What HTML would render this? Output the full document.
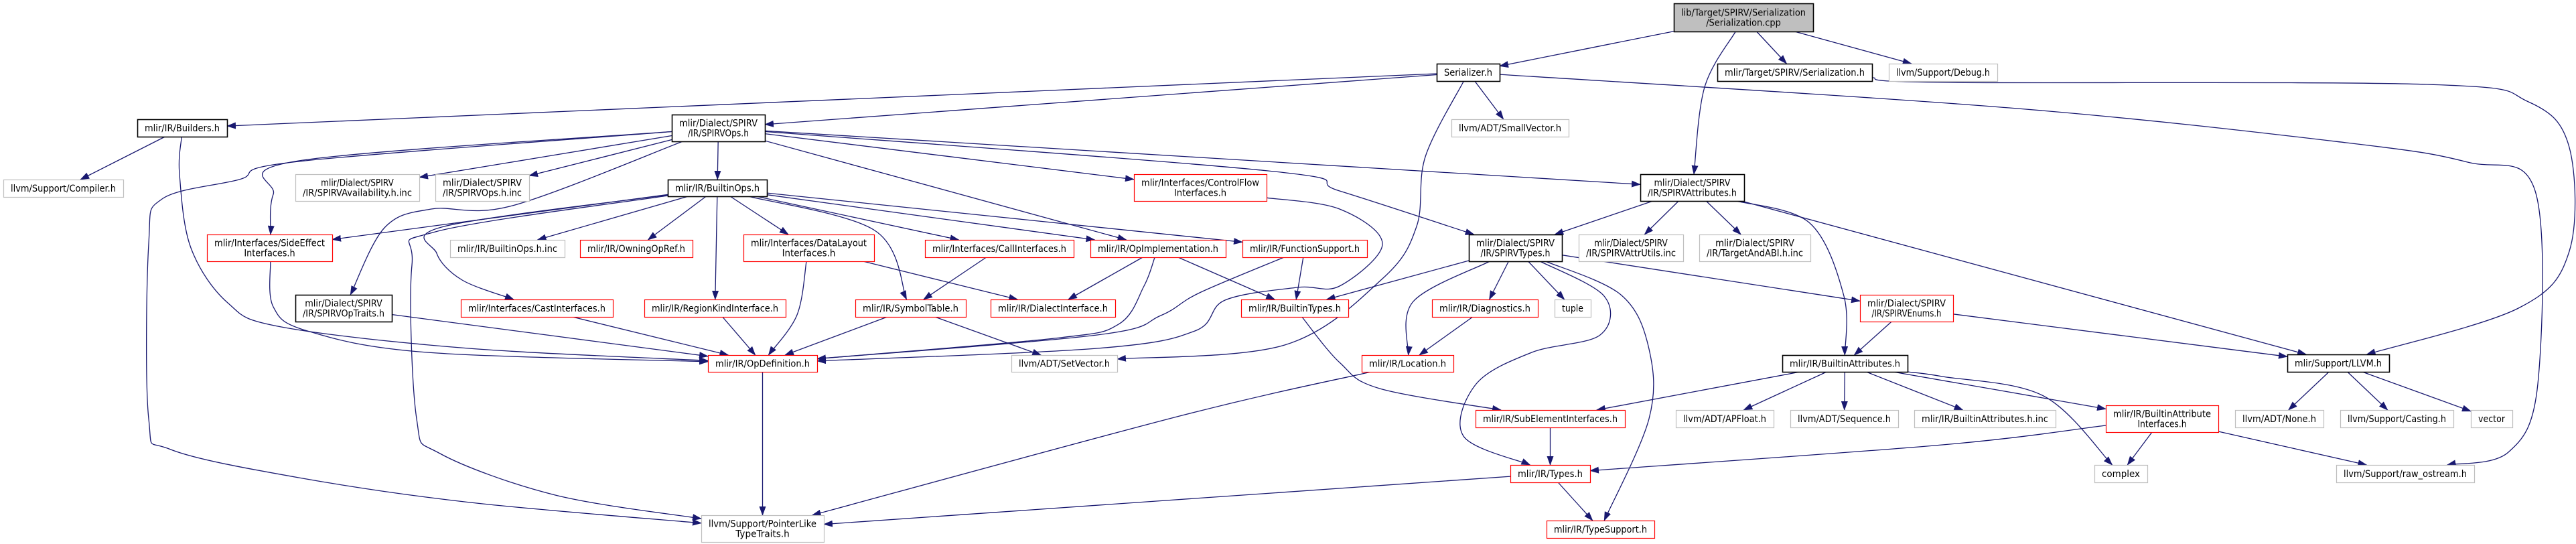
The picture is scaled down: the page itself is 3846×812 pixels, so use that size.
<!DOCTYPE html>
<html><head><meta charset="utf-8"><title>Serialization.cpp include graph</title>
<style>
html,body{margin:0;padding:0;background:#fff;}
svg{display:block;}
</style></head>
<body>
<svg id="g" xmlns="http://www.w3.org/2000/svg" width="3846" height="812" viewBox="0 0 3846 812">
<defs>
<marker id="ah" markerUnits="userSpaceOnUse" markerWidth="14" markerHeight="10" refX="13" refY="5" orient="auto">
<path d="M0,0 L14,5 L0,10 z" fill="#191970"/>
</marker>
</defs>
<g id="edges"></g>
<g id="nodes"></g>
</svg>
<script>
// node: id, x1, y1, x2, y2, style (k=black, g=gray, r=red, t=top), label lines
const nodeIds = ["cpp","ser","tser","debug","builders","compiler","avail","opsinc","side","boinc","owning","optraits","cast","region","spirvops","builtinops","cflow","dlayout","callif","opimpl","funcsupp","symtab","dialectif","btypes","opdef","setvec","ptrlike","sattr","stypes","attrutils","tabi","diag","tuple","senums","loc","battrs","subelem","apfloat","seq","bainc","types","typesup","llvm","baif","none","casting","vector","complex","rawos"];
const nodeBoxes = [
[2499,5,2707,47],[2145,95,2239,121],[2564,95,2795,121],[2820,95,2982,121],
[205,178,339,204],[5,268,184,294],[441,260,626,300],[650,260,790,300],
[309,350,496,390],[672,358,843,384],[866,358,1034,384],[441,440,585,480],
[688,447,915,473],[962,447,1173,473],[1003,171,1142,211],[997,268,1145,293],
[1693,260,1891,300],[1110,350,1305,390],[1381,358,1603,384],[1628,358,1830,384],
[1855,358,2041,384],[1277,447,1442,473],[1479,447,1665,473],[1853,447,2013,473],
[1057,530,1220,555],[1510,530,1668,555],[1047,769,1230,809],[2449,260,2604,300],
[2193,350,2332,390],[2357,350,2513,390],[2537,350,2703,390],[2138,447,2296,473],
[2321,447,2375,473],[2777,440,2916,480],[2033,530,2170,555],[2661,530,2848,555],
[2203,612,2426,638],[2502,612,2648,638],[2673,612,2834,638],[2858,612,3069,638],
[2255,694,2374,720],[2309,777,2470,803],[3415,529,3567,555],[3144,605,3312,645],
[3337,612,3469,638],[3494,612,3663,638],[3689,612,3751,638],[3127,694,3206,720],
[3488,694,3694,720]];
const nodeStyles = ["t","k","k","g","k","g","g","g","r","g","r","k","r","r","k","k","r","r","r","r","r","r","r","r","r","g","g","k","k","g","g","r","g","r","r","k","r","g","g","g","r","r","k","r","g","g","g","g","g"];
const nodeLabels = [
["lib/Target/SPIRV/Serialization","/Serialization.cpp"],["Serializer.h"],["mlir/Target/SPIRV/Serialization.h"],["llvm/Support/Debug.h"],
["mlir/IR/Builders.h"],["llvm/Support/Compiler.h"],["mlir/Dialect/SPIRV","/IR/SPIRVAvailability.h.inc"],["mlir/Dialect/SPIRV","/IR/SPIRVOps.h.inc"],
["mlir/Interfaces/SideEffect","Interfaces.h"],["mlir/IR/BuiltinOps.h.inc"],["mlir/IR/OwningOpRef.h"],["mlir/Dialect/SPIRV","/IR/SPIRVOpTraits.h"],
["mlir/Interfaces/CastInterfaces.h"],["mlir/IR/RegionKindInterface.h"],["mlir/Dialect/SPIRV","/IR/SPIRVOps.h"],["mlir/IR/BuiltinOps.h"],
["mlir/Interfaces/ControlFlow","Interfaces.h"],["mlir/Interfaces/DataLayout","Interfaces.h"],["mlir/Interfaces/CallInterfaces.h"],["mlir/IR/OpImplementation.h"],
["mlir/IR/FunctionSupport.h"],["mlir/IR/SymbolTable.h"],["mlir/IR/DialectInterface.h"],["mlir/IR/BuiltinTypes.h"],
["mlir/IR/OpDefinition.h"],["llvm/ADT/SetVector.h"],["llvm/Support/PointerLike","TypeTraits.h"],["mlir/Dialect/SPIRV","/IR/SPIRVAttributes.h"],
["mlir/Dialect/SPIRV","/IR/SPIRVTypes.h"],["mlir/Dialect/SPIRV","/IR/SPIRVAttrUtils.inc"],["mlir/Dialect/SPIRV","/IR/TargetAndABI.h.inc"],["mlir/IR/Diagnostics.h"],
["tuple"],["mlir/Dialect/SPIRV","/IR/SPIRVEnums.h"],["mlir/IR/Location.h"],["mlir/IR/BuiltinAttributes.h"],
["mlir/IR/SubElementInterfaces.h"],["llvm/ADT/APFloat.h"],["llvm/ADT/Sequence.h"],["mlir/IR/BuiltinAttributes.h.inc"],
["mlir/IR/Types.h"],["mlir/IR/TypeSupport.h"],["mlir/Support/LLVM.h"],["mlir/IR/BuiltinAttribute","Interfaces.h"],
["llvm/ADT/None.h"],["llvm/Support/Casting.h"],["vector"],["complex"],
["llvm/Support/raw_ostream.h"]];
const nodeSlugs = ["serialization-cpp-node","serializer-h-node","target-serialization-h-node","debug-h-node","builders-h-node","compiler-h-node","spirv-availability-inc-node","spirv-ops-inc-node","side-effect-interfaces-node","builtin-ops-inc-node","owning-op-ref-node","spirv-op-traits-node","cast-interfaces-node","region-kind-interface-node","spirv-ops-h-node","builtin-ops-h-node","control-flow-interfaces-node","data-layout-interfaces-node","call-interfaces-node","op-implementation-node","function-support-node","symbol-table-node","dialect-interface-node","builtin-types-node","op-definition-node","set-vector-node","pointer-like-type-traits-node","spirv-attributes-node","spirv-types-node","spirv-attr-utils-node","target-and-abi-node","diagnostics-node","tuple-node","spirv-enums-node","location-node","builtin-attributes-node","sub-element-interfaces-node","apfloat-node","sequence-node","builtin-attributes-inc-node","types-h-node","type-support-node","llvm-h-node","builtin-attribute-interfaces-node","none-h-node","casting-h-node","vector-node","complex-node","raw-ostream-node"];

// edges: source, target, waypoints
const edgeFrom = ["cpp","cpp","cpp","cpp","ser","ser","ser","ser","ser","tser","builders","builders",
"spirvops","spirvops","spirvops","spirvops","spirvops","spirvops","spirvops","spirvops","spirvops","spirvops",
"builtinops","builtinops","builtinops","builtinops","builtinops","builtinops","builtinops","builtinops","builtinops","builtinops","builtinops",
"side","optraits","cast","region","dlayout","dlayout","callif","symtab","symtab","opimpl","opimpl","opimpl","funcsupp","funcsupp","cflow","opdef",
"sattr","sattr","sattr","sattr","sattr","stypes","stypes","stypes","stypes","stypes","stypes","stypes","diag","loc","btypes","senums","senums",
"battrs","battrs","battrs","battrs","battrs","battrs","baif","baif","baif","subelem","types","types","llvm","llvm","llvm"];
const edgeTo = ["ser","sattr","tser","debug","builders","spirvops","smallvec","setvec","rawos","llvm","compiler","opdef",
"side","ptrlike","avail","opsinc","optraits","builtinops","cflow","opimpl","stypes","sattr",
"side","boinc","owning","cast","ptrlike","region","dlayout","callif","opimpl","funcsupp","symtab",
"opdef","opdef","opdef","opdef","opdef","dialectif","symtab","opdef","setvec","dialectif","opdef","btypes","opdef","btypes","opdef","ptrlike",
"stypes","attrutils","tabi","battrs","llvm","btypes","loc","diag","tuple","types","typesup","senums","loc","ptrlike","subelem","battrs","llvm",
"subelem","apfloat","seq","bainc","baif","complex","types","complex","rawos","types","ptrlike","typesup","none","casting","vector"];
const edgeVia = [[],[[2545,130]],[],[],[],[],[],[[2128,234],[2115,338],[2064,416],[1918,515]],[[3000,161],[3503,213],[3684,242],[3785,285],[3789,573],[3745,675]],[[2900,123],[3624,126],[3775,152],[3836,220],[3836,375],[3760,460]],[],[[268,260],[285,370],[340,452],[420,488],[700,520]],
[[446,240],[408,290]],[[446,241],[357,268],[242,297],[222,364],[222,625],[255,671],[446,713],[702,750]],[],[],[[765,307],[644,312],[574,340]],[],[],[],[[1893,255],[2000,285]],[],
[],[],[],[[663,338],[652,378],[690,418]],[[650,346],[615,396],[622,625],[657,677],[829,739]],[],[],[],[],[],[[1306,344]],
[[408,458],[459,494],[638,526]],[],[],[],[[1190,470]],[],[],[],[],[],[[1708,427],[1670,484],[1574,505]],[],[[1791,437],[1733,471],[1638,500]],[],[[2000,312],[2064,364],[2000,427],[1937,429],[1829,448],[1784,494],[1638,520]],[],
[],[],[],[[2702,333],[2753,442]],[],[],[[2110,450]],[],[],[[2395,442],[2389,500],[2287,526],[2204,573],[2185,651]],[[2420,440],[2462,521],[2462,625]],[],[],[[1765,620]],[[2000,541],[2060,580]],[],[],
[],[],[],[],[],[[2900,562],[3051,591]],[[2900,664]],[],[],[],[],[],[],[],[]];
// ensure smallvec node
nodeIds.push("smallvec");
nodeBoxes.push([2167,178,2342,204]);
nodeStyles.push("g");
nodeLabels.push(["llvm/ADT/SmallVector.h"]);
nodeSlugs.push("small-vector-node");

const NS = "http://www.w3.org/2000/svg";
const idx = {};
nodeIds.forEach((id,i)=>idx[id]=i);

function center(i){const b=nodeBoxes[i];return [(b[0]+b[2])/2,(b[1]+b[3])/2];}
function clip(i,p){
  const b=nodeBoxes[i];const c=center(i);
  let dx=p[0]-c[0],dy=p[1]-c[1];
  const hw=(b[2]-b[0])/2, hh=(b[3]-b[1])/2;
  const t=Math.min(dx!==0?hw/Math.abs(dx):Infinity, dy!==0?hh/Math.abs(dy):Infinity);
  return [c[0]+dx*t,c[1]+dy*t];
}
function pathFrom(pts){
  let d="M"+pts[0][0].toFixed(1)+","+pts[0][1].toFixed(1);
  for(let i=0;i<pts.length-1;i++){
    const p0=pts[i-1]||pts[i],p1=pts[i],p2=pts[i+1],p3=pts[i+2]||p2;
    const c1=[p1[0]+(p2[0]-p0[0])/6,p1[1]+(p2[1]-p0[1])/6];
    const c2=[p2[0]-(p3[0]-p1[0])/6,p2[1]-(p3[1]-p1[1])/6];
    d+=" C"+c1[0].toFixed(1)+","+c1[1].toFixed(1)+" "+c2[0].toFixed(1)+","+c2[1].toFixed(1)+" "+p2[0].toFixed(1)+","+p2[1].toFixed(1);
  }
  return d;
}
const eg=document.getElementById("edges");
edgeFrom.forEach((f,k)=>{
  const s=idx[f],t=idx[edgeTo[k]];
  const via=edgeVia[k]||[];
  const first=via.length?via[0]:center(t);
  const last=via.length?via[via.length-1]:center(s);
  const pts=[clip(s,first),...via,clip(t,last)];
  const p=document.createElementNS(NS,"path");
  p.setAttribute("d",pathFrom(pts));
  p.setAttribute("fill","none");
  p.setAttribute("stroke","#191970");
  p.setAttribute("stroke-width","1.3");
  p.setAttribute("marker-end","url(#ah)");
  
  
  eg.appendChild(p);
});
const ng=document.getElementById("nodes");
const borderCol={k:"#000000",t:"#000000",g:"#bfbfbf",r:"#ff0000"};
nodeIds.forEach((id,i)=>{
  const b=nodeBoxes[i],st=nodeStyles[i],lines=nodeLabels[i];
  const g=document.createElementNS(NS,"g");
  
  
  const r=document.createElementNS(NS,"rect");
  r.setAttribute("x",b[0]+0.5);r.setAttribute("y",b[1]+0.5);
  r.setAttribute("width",b[2]-b[0]);r.setAttribute("height",b[3]-b[1]);
  r.setAttribute("fill",st==="t"?"#bfbfbf":"#ffffff");
  r.setAttribute("stroke",borderCol[st]);
  r.setAttribute("stroke-width",(st==="k"||st==="t")?"1.6":"1.2");
  
  
  g.appendChild(r);
  const cx=(b[0]+b[2])/2, cy=(b[1]+b[3])/2;
  const maxLen=Math.max(...lines.map(l=>l.length));
  const usable=b[2]-b[0]-22;
  lines.forEach((ln,j)=>{
    const tx=document.createElementNS(NS,"text");
    const y=cy+5+(j-(lines.length-1)/2)*15;
    tx.setAttribute("x",cx);tx.setAttribute("y",y.toFixed(1));
    tx.setAttribute("text-anchor","middle");
    tx.setAttribute("font-family","'DejaVu Sans','Liberation Sans',sans-serif");
    tx.setAttribute("font-size","14");
    tx.setAttribute("fill","#000");
    tx.setAttribute("textLength",(usable*ln.length/maxLen).toFixed(1));
    tx.setAttribute("lengthAdjust","spacingAndGlyphs");
    
    
    tx.textContent=ln;
    g.appendChild(tx);
  });
  ng.appendChild(g);
});
</script>
</body></html>
